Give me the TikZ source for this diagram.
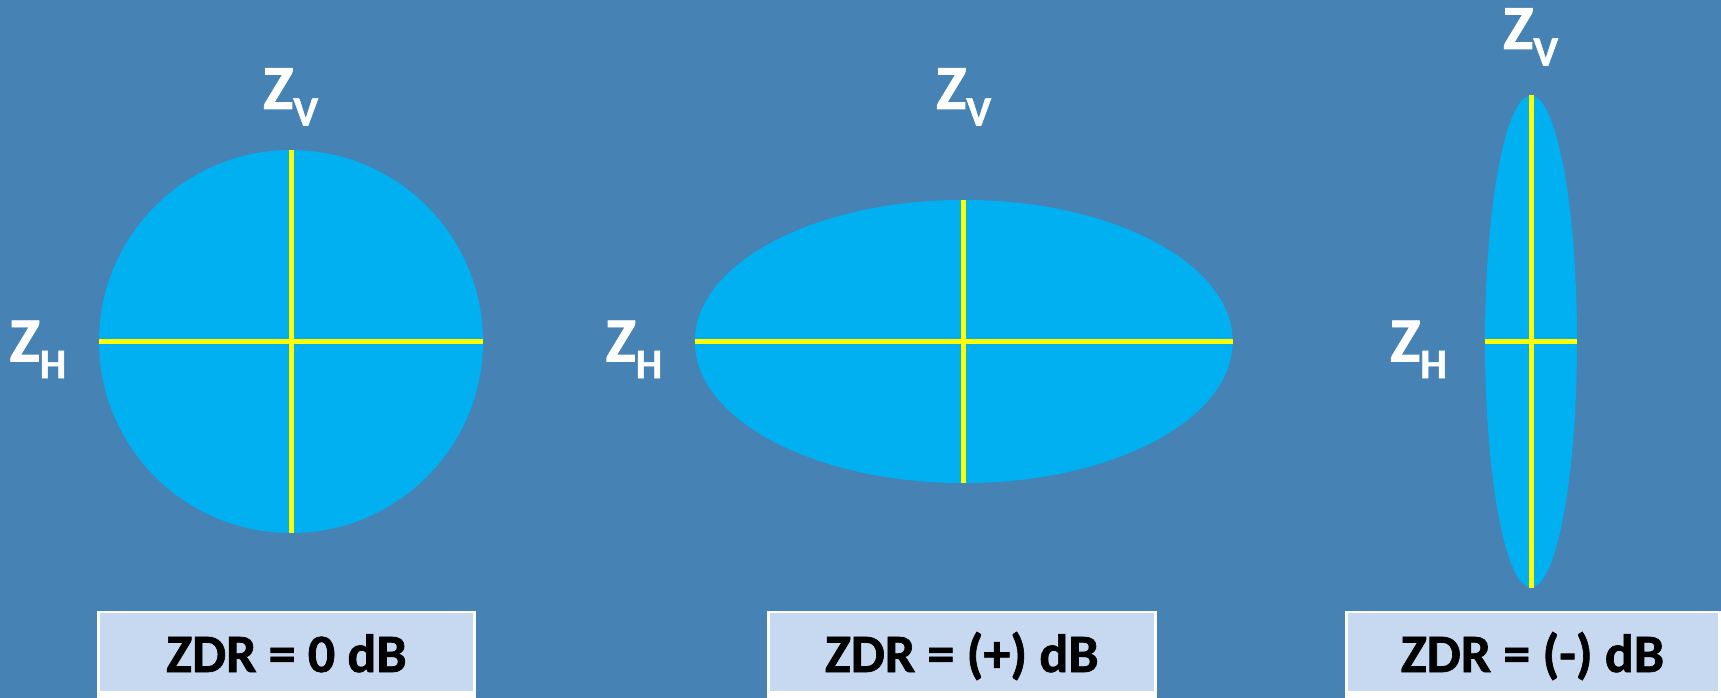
\documentclass[tikz,border=0pt]{standalone}
\usepackage{fontspec}
\setmainfont{Carlito}[BoldFeatures={FakeBold=1.2}]
\definecolor{bgblue}{HTML}{4682B4}
\definecolor{dropblue}{HTML}{00B0F0}
\definecolor{axisyellow}{HTML}{FFFF00}
\definecolor{boxfill}{HTML}{C6D9F1}
\tikzset{
  drop/.style={fill=dropblue, draw=none},
  axisline/.style={draw=axisyellow, line width=5pt},
  zlabel/.style={text=white, inner sep=0pt, anchor=base west, font=\bfseries\fontsize{63}{63}\selectfont},
  zdrbox/.style={draw=white, line width=2.5pt, fill=boxfill},
  zdrtext/.style={text=black, inner sep=0pt, anchor=base, font=\bfseries\fontsize{54}{54}\selectfont}
}
\newcommand{\zsub}[1]{Z\raisebox{-16.5pt}{\fontsize{42}{42}\selectfont #1}}
\begin{document}
\begin{tikzpicture}[x=1pt,y=-1pt]
\fill[bgblue] (0,0) rectangle (1721,698);
\useasboundingbox (0,0) rectangle (1721,698);

% drop 1: circle
\fill[drop] (291,341.5) ellipse [x radius=192, y radius=191.5];
\coordinate (c1l) at (99,341.5); \coordinate (c1r) at (483,341.5);
\coordinate (c1t) at (291,150); \coordinate (c1b) at (291,533);
\draw[axisline] (c1l) -- (c1r);
\draw[axisline] (c1t) -- (c1b);

% drop 2: oblate
\fill[drop] (963.7,341.5) ellipse [x radius=269, y radius=141.6];
\coordinate (c2l) at (694.7,341.5); \coordinate (c2r) at (1232.7,341.5);
\coordinate (c2t) at (963.7,200); \coordinate (c2b) at (963.7,483);
\draw[axisline] (c2l) -- (c2r);
\draw[axisline] (c2t) -- (c2b);

% drop 3: prolate
\fill[drop] (1531,341.5) ellipse [x radius=46, y radius=246];
\coordinate (c3l) at (1485,341.5); \coordinate (c3r) at (1577,341.5);
\coordinate (c3t) at (1531,95.5); \coordinate (c3b) at (1531,587.5);
\draw[axisline] (c3l) -- (c3r);
\draw[axisline] (c3t) -- (c3b);

% labels
\node[zlabel] (zv1) at (263,109) {\zsub{V}};
\node[zlabel] (zh1) at (9.5,361.5) {\zsub{H}};
\node[zlabel] (zv2) at (936,109) {\zsub{V}};
\node[zlabel] (zh2) at (605.5,361.5) {\zsub{H}};
\node[zlabel] (zv3) at (1503,49) {\zsub{V}};
\node[zlabel] (zh3) at (1390,361.5) {\zsub{H}};

% boxes
\fill[white] (97,610.5) rectangle (475.5,698);
\fill[boxfill] (99.5,613) rectangle (473,691);
\node[zdrtext] (b1) at (286.5,672) {ZDR = 0 dB};

\fill[white] (767,610.5) rectangle (1156.5,698);
\fill[boxfill] (769.5,613) rectangle (1154,691);
\node[zdrtext] (b2) at (961.8,672) {ZDR = (+) dB};

\fill[white] (1345,610.5) rectangle (1721,698);
\fill[boxfill] (1347.5,613) rectangle (1718,691);
\node[zdrtext] (b3) at (1532.5,672) {ZDR = (-) dB};
\end{tikzpicture}
\end{document}
